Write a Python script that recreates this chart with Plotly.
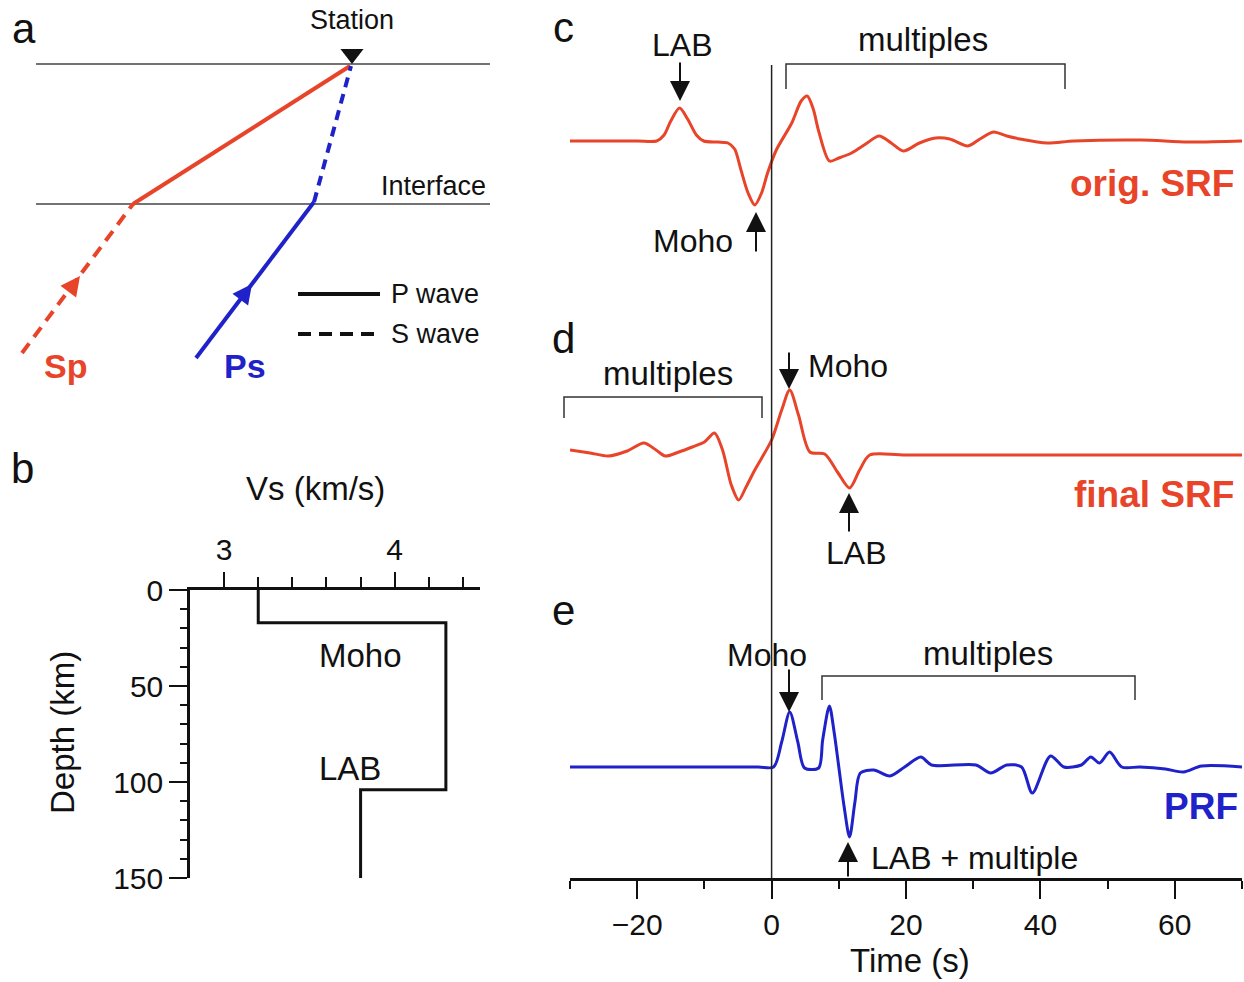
import plotly.graph_objects as go

W, H = 1244, 982
RED = '#e8442a'
BLUE = '#1f22c8'
INK = '#111111'
FONT = 'Liberation Sans, Arial, sans-serif'

# ---------------- data ----------------
# panel c: original S receiver function (time in s, amplitude in arbitrary units)
time_c = [-30, -20, -17.1, -16.0, -15.0, -13.7, -12.5, -11.2, -10.1, -8.0, -6.5, -5.5, -4.6, -3.5,
          -2.5, -1.5, -0.6, 0.7, 3.0, 4.4, 5.3, 6.2, 7.0, 8.6, 10.0, 11.9, 14.0, 16.0, 17.8,
          19.6, 22.0, 24.4, 26.5, 29.2, 31.0, 33.0, 35.0, 37.0, 41.0, 45.0, 55.0, 62.0, 70]
amp_c = [0, 0, 0, 6, 20, 33, 22, 6, 0, -1, -2, -8, -28, -52,
         -64, -52, -32, -9, 18, 40, 45, 32, 10, -20, -17, -12, -3, 5, -2,
         -10, -2, 3, 2, -5, 2, 9, 5, 2, -2, 0, 1, -1, 0]

# panel d: final S receiver function
time_d = [-30, -27, -24.3, -21.5, -19.0, -17.2, -15.8, -13.8, -11.8, -10.0, -8.5, -7.3, -6.0,
          -4.9, -3.8, -2.5, 0, 1.5, 2.7, 4.0, 5.7, 7.9, 9.8, 11.6, 13.1, 14.6, 20, 70]
amp_d = [5, 2, -1, 4, 12, 5, -1, 3, 8, 13, 22, 5, -30,
         -45, -32, -15, 15, 45, 65, 40, 3, 1, -17, -33, -15, 0, 0, 0]

# panel e: P receiver function
time_e = [-30, -15, -2, 0.3, 1.5, 2.7, 3.9, 4.9, 7.0, 7.6, 8.6, 9.3, 10.0, 10.8, 11.6, 12.4,
          13.2, 15.2, 17.6, 19.8, 22.2, 23.8, 30.4, 32.6, 35.0, 37.2, 38.8, 41.5, 43.5, 46.1,
          47.5, 48.8, 50.3, 52.1, 54.8, 58.6, 61.3, 64.0, 70]
amp_e = [0, 0, 0, 0, 25, 55, 25, -1, -1, 27, 61, 35, 0, -40, -70, -35,
         -6, -3, -9, 0, 10, 2, 2, -6, 2, 0, -26, 11, 0, 2,
         10, 4, 15, 0, 0, -2, -5, 1, 0]

time_ticks = [-20, 0, 20, 40, 60]
time_tick_text = ['\u221220', '0', '20', '40', '60']
time_minor = [-30, -10, 10, 30, 50, 70]

# panel b: shear-velocity profile
vs_kms = [3.2, 3.2, 4.3, 4.3, 3.8, 3.8]
depth_km = [0, 17, 17, 104, 104, 150]
vs_ticks = [3, 4]
vs_minor = [3.2, 3.4, 3.6, 3.8, 4.2, 4.4]
depth_ticks = [0, 50, 100, 150]
depth_minor = [10, 20, 30, 40, 60, 70, 80, 90, 110, 120, 130, 140]

# panel a: schematic ray geometry (sketch units)
surface_y = 64
interface_y = 204
layer_x = [36, 490]
sp_p_x, sp_p_y = [133, 350], [204, 66]
sp_s_x, sp_s_y = [22, 133], [353, 204]
ps_p_x, ps_p_y = [196, 314], [358, 202]
ps_s_x, ps_s_y = [314, 351], [202, 66]
station_xy = (352, 54)


def px(x):
    return x / W


def py(y):
    return 1 - y / H


fig = go.Figure()

# ---------------- right panels c/d/e ----------------
BASE_C, BASE_D, BASE_E = 737, 423, 111
for t, a, base, col in [(time_c, amp_c, BASE_C, RED), (time_d, amp_d, BASE_D, RED),
                        (time_e, amp_e, BASE_E, BLUE)]:
    fig.add_trace(go.Scatter(x=t, y=[base + v for v in a], mode='lines',
                             line=dict(color=col, width=3, shape='spline', smoothing=0.8),
                             xaxis='x', yaxis='y', showlegend=False, hoverinfo='skip'))

# ---------------- panel b ----------------
fig.add_trace(go.Scatter(x=vs_kms, y=depth_km, mode='lines', line=dict(color=INK, width=3),
                         xaxis='x2', yaxis='y2', showlegend=False, hoverinfo='skip'))

# ---------------- panel a (sketch overlay) ----------------
def sk(xs, ys, color, width, dash='solid'):
    fig.add_trace(go.Scatter(x=xs, y=ys, mode='lines', line=dict(color=color, width=width, dash=dash),
                             xaxis='x3', yaxis='y3', showlegend=False, hoverinfo='skip'))

sk(layer_x, [surface_y, surface_y], '#444444', 1.3)
sk(layer_x, [interface_y, interface_y], '#444444', 1.3)
sk(sp_p_x, sp_p_y, RED, 4)
sk(sp_s_x, sp_s_y, RED, 4, '12px,8px')
sk(ps_p_x, ps_p_y, BLUE, 4)
sk(ps_s_x, ps_s_y, BLUE, 4, '10px,7px')
sk([298, 380], [294, 294], INK, 4)
sk([298, 380], [334, 334], INK, 4, '13px,8px')
fig.add_trace(go.Scatter(x=[station_xy[0]], y=[station_xy[1]], mode='markers',
                         marker=dict(symbol='triangle-down', size=20, color=INK),
                         xaxis='x3', yaxis='y3', showlegend=False, hoverinfo='skip'))

ann = []


def text(x, y, s, size=32, color=INK, xa='center', ya='middle', angle=0):
    ann.append(dict(x=px(x), y=py(y), xref='paper', yref='paper', text=s, showarrow=False,
                    xanchor=xa, yanchor=ya, textangle=angle,
                    font=dict(family=FONT, size=size, color=color)))


def arrow(x, y, ay, ax=0, color=INK, width=2, size=2):
    ann.append(dict(x=px(x), y=py(y), xref='paper', yref='paper', text='', showarrow=True,
                    ax=ax, ay=ay, arrowhead=2, arrowsize=size, arrowwidth=width,
                    arrowcolor=color))


# panel letters
text(24, 28, 'a', 42)
text(22, 468, 'b', 42)
text(563, 27, 'c', 42)
text(563, 338, 'd', 42)
text(563, 610, 'e', 42)

# panel a labels
text(352, 20, 'Station', 27)
text(488, 186, 'Interface', 27, xa='right')
text(389, 294, 'P wave', 27, xa='left')
text(389, 334, 'S wave', 27, xa='left')
text(65, 366, '<b>Sp</b>', 34, RED)
text(245, 366, '<b>Ps</b>', 34, BLUE)
arrow(80, 276, ay=12, ax=-9, color=RED, width=3, size=1.3)
arrow(252, 284, ay=12, ax=-9, color=BLUE, width=3, size=1.3)

# panel b labels
text(315, 488, 'Vs (km/s)', 33)
text(62, 733, 'Depth (km)', 33, angle=-90)
text(360, 655, 'Moho', 33)
text(350, 768, 'LAB', 33)

# panel c
text(682, 45, 'LAB', 32)
arrow(680, 101, ay=-40)
text(923, 40, 'multiples', 33)
text(693, 241, 'Moho', 32)
arrow(756, 212, ay=41)
text(1236, 183, '<b>orig. SRF</b>', 37, RED, xa='right')

# panel d
text(668, 374, 'multiples', 33)
text(806, 366, 'Moho', 32, xa='left')
arrow(789, 389, ay=-38)
text(856, 553, 'LAB', 32)
arrow(849, 493, ay=40)
text(1236, 495, '<b>final SRF</b>', 37, RED, xa='right')

# panel e
text(767, 655, 'Moho', 32)
arrow(789, 712, ay=-44)
text(988, 653, 'multiples', 33)
text(1240, 806, '<b>PRF</b>', 37, BLUE, xa='right')
text(869, 858, 'LAB + multiple', 32, xa='left')
arrow(848, 842, ay=36)
text(910, 960, 'Time (s)', 33)

# shapes: t=0 line and brackets
shapes = [dict(type='line', xref='x', yref='paper', x0=0, x1=0, y0=py(878), y1=py(65),
               line=dict(color='#222222', width=1.5))]


def bracket(x0, x1, ytop, ybot):
    shapes.append(dict(type='path', xref='paper', yref='paper',
                       path=f'M {px(x0)} {py(ybot)} L {px(x0)} {py(ytop)} L {px(x1)} {py(ytop)} L {px(x1)} {py(ybot)}',
                       line=dict(color='#333333', width=1.5)))


bracket(786, 1065, 64, 89)
bracket(564, 762, 397, 418)
bracket(822, 1135, 676, 700)

axis_font = dict(family=FONT, size=30, color=INK)
fig.update_layout(
    template='none',
    width=W, height=H, autosize=False,
    margin=dict(l=0, r=0, t=0, b=0, pad=0, autoexpand=False),
    paper_bgcolor='white', plot_bgcolor='rgba(0,0,0,0)',
    font=dict(family=FONT, color=INK),
    showlegend=False,
    annotations=ann, shapes=shapes,
    xaxis=dict(domain=[px(570), px(1242)], range=[-30, 70], anchor='y', automargin=False,
               tickvals=time_ticks, ticktext=time_tick_text, ticks='outside', ticklen=18,
               tickwidth=2, tickcolor=INK, showline=True, linewidth=2.5, linecolor=INK,
               showgrid=False, zeroline=False, tickfont=axis_font,
               minor=dict(tickvals=time_minor, ticks='outside', ticklen=8, tickwidth=2,
                          tickcolor=INK, showgrid=False)),
    yaxis=dict(domain=[py(878), 1], range=[0, 878], anchor='x', visible=False, fixedrange=True,
               automargin=False),
    xaxis2=dict(domain=[px(190), px(480)], range=[2.8, 4.5], anchor='y2', side='top',
                automargin=False,
                tickvals=vs_ticks, ticks='outside', ticklen=15, tickwidth=2, tickcolor=INK,
                showline=True, linewidth=2.5, linecolor=INK, showgrid=False, zeroline=False,
                tickfont=axis_font,
                minor=dict(tickvals=vs_minor, ticks='outside', ticklen=10, tickwidth=2,
                           tickcolor=INK, showgrid=False)),
    yaxis2=dict(domain=[py(878), py(590)], range=[150, 0], anchor='x2', automargin=False,
                tickvals=depth_ticks, ticks='outside', ticklen=18, tickwidth=2, tickcolor=INK,
                showline=True, linewidth=2.5, linecolor=INK, showgrid=False, zeroline=False,
                tickfont=axis_font,
                minor=dict(tickvals=depth_minor, ticks='outside', ticklen=7, tickwidth=2,
                           tickcolor=INK, showgrid=False)),
    xaxis3=dict(domain=[0, 1], range=[0, W], anchor='y3', visible=False, fixedrange=True,
                automargin=False),
    yaxis3=dict(domain=[0, 1], range=[H, 0], anchor='x3', visible=False, fixedrange=True,
                automargin=False),
)

fig.write_html('out.html', config={'displayModeBar': False},
               post_script="document.body.style.margin='0';document.body.style.overflow='hidden';")
